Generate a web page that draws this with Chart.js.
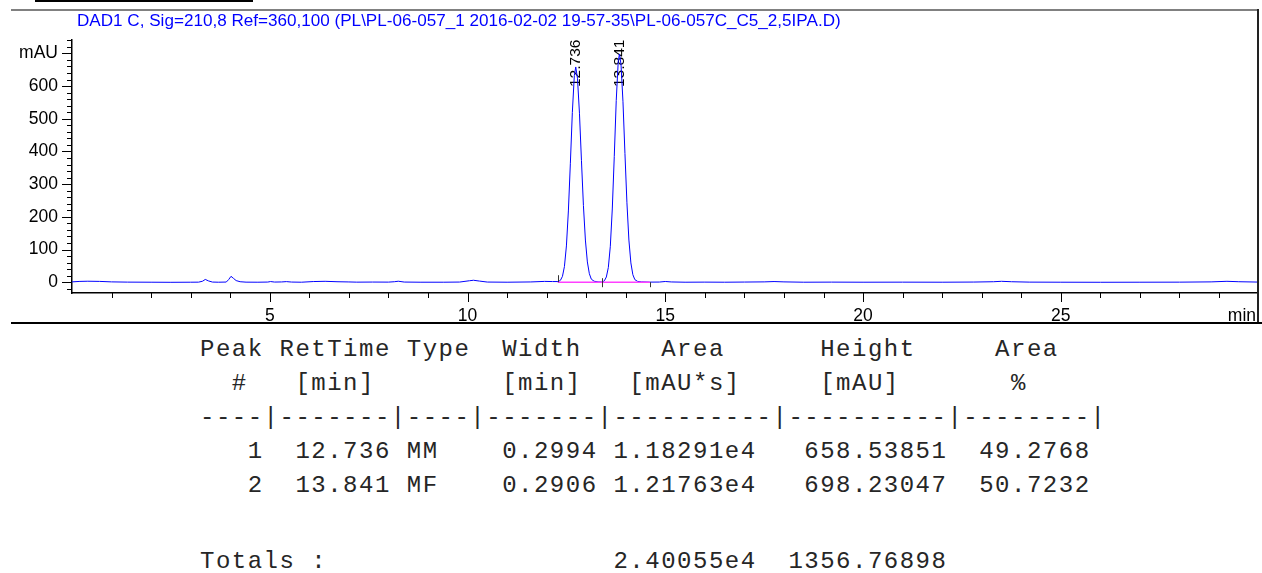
<!DOCTYPE html>
<html>
<head>
<meta charset="utf-8">
<script src="https://cdn.jsdelivr.net/npm/chart.js@4.4.1/dist/chart.umd.min.js"></script>
<style>
  body { margin: 0; width: 1262px; height: 573px; background: #fff; position: relative; overflow: hidden; font-family: Arial, 'Liberation Sans', sans-serif; }
  .rule { position: absolute; }
  #topRule { left: 35px; top: 0; width: 218px; height: 2px; background: #000; }
  #grayRule { left: 11px; top: 9px; width: 1247px; height: 2px; background: #808080; }
  #rightRule { left: 1257px; top: 9px; width: 2px; height: 315px; background: #222; }
  #bottomRule { left: 11px; top: 322px; width: 1251px; height: 2px; background: #000; }
  #title { position: absolute; left: 77px; top: 12px; color: #0000ff; font-size: 17.1px; line-height: 17px; white-space: nowrap; }
  .report { position: absolute; left: 200px; margin: 0; font-family: 'Liberation Mono', 'Courier New', monospace; font-size: 24px; letter-spacing: 1.5px; line-height: 34px; color: #262626; }
  #report { top: 333px; }
  #totals { top: 545px; }
</style>
</head>
<body>
<div class="rule" id="topRule"></div>
<div class="rule" id="grayRule"></div>
<canvas id="chromatogram" width="1262" height="330" style="position:absolute;left:0;top:0"></canvas>
<div class="rule" id="rightRule"></div>
<div class="rule" id="bottomRule"></div>
<div id="title"></div>
<pre class="report" id="report"></pre>
<pre class="report" id="totals"></pre>
<script>
// Signal description
const signalTitle = 'DAD1 C, Sig=210,8 Ref=360,100 (PL\\PL-06-057_1 2016-02-02 19-57-35\\PL-06-057C_C5_2,5IPA.D)';

// Trace (time in min, signal in mAU)
const traceTime = [
  0.00, 0.20, 0.40, 0.70, 1.00, 1.40, 2.00, 2.50, 3.00, 3.20, 3.30, 3.37, 3.45, 3.55, 3.70,
  3.90, 3.96, 4.02, 4.08, 4.15, 4.25, 4.40, 4.70, 4.95, 5.02, 5.12, 5.30, 5.42, 5.55, 5.80,
  6.10, 6.40, 6.70, 7.00, 7.20, 7.60, 8.00, 8.15, 8.25, 8.40, 8.80, 9.40, 9.80, 10.05, 10.15,
  10.30, 10.50, 11.00, 11.60, 11.95, 12.15, 12.30,
  12.35, 12.40, 12.45, 12.50, 12.55, 12.60, 12.65, 12.70, 12.736, 12.78, 12.83, 12.88, 12.93,
  12.98, 13.03, 13.08, 13.13, 13.20, 13.30, 13.41,
  13.46, 13.51, 13.56, 13.61, 13.66, 13.71, 13.76, 13.81, 13.841, 13.88, 13.93, 13.98, 14.03,
  14.08, 14.13, 14.18, 14.23, 14.30, 14.40, 14.60,
  14.85, 15.00, 15.15, 15.50, 16.00, 16.50, 17.00, 17.50, 17.75, 18.00, 18.50, 19.20, 20.00,
  21.00, 22.00, 22.80, 23.30, 23.50, 23.75, 24.20, 25.00, 26.00, 27.00, 28.00, 28.80, 29.20,
  29.50, 29.96
];
const traceMau = [
  1.0, 2.5, 3.0, 2.5, 1.0, 0.3, 0.0, -0.3, 0.0, 0.2, 3.0, 8.5, 4.0, 0.5, 0.0,
  0.5, 8.0, 18.0, 12.0, 5.0, 1.5, 0.2, 0.0, 0.5, 2.0, 0.5, 0.8, 1.8, 0.5, 0.0,
  2.0, 2.8, 1.5, 0.8, 0.2, 0.5, 0.3, 1.5, 3.0, 0.5, 0.0, 0.0, 0.5, 4.5, 6.0,
  3.5, 0.5, 0.0, 0.8, 2.5, 2.0, 2.0,
  6, 18, 48, 111, 218, 364, 519, 632, 658.5, 624, 517, 373, 235,
  129, 62, 26, 9.3, 3, 1, 0.5,
  4.5, 16, 45, 110, 224, 385, 556, 675, 698.2, 667, 552, 394, 243,
  129, 59, 23, 8, 2.5, 1, 0.3,
  0.5, 2.2, 0.8, 0.0, 0.3, 0.0, 0.5, 1.0, 2.0, 1.0, 0.0, 0.3, 0.0,
  0.2, 0.0, 0.5, 1.5, 2.8, 1.5, 0.3, 0.0, -0.2, 0.0, 0.2, 1.0, 2.8,
  1.5, 0.5
];

// Peak annotations and integration events
const peakRetTimes = [12.736, 13.841];
const peakLabels = ['12.736', '13.841'];
const baselineTimes = [12.28, 14.61];
const baselineMau = [0, 0];
const eventTimes = [12.28, 13.41, 14.61];
const eventKinds = ['start', 'drop', 'end'];

// Axis ticks
const yLabelledTicks = [0, 100, 200, 300, 400, 500, 600, 700];
const yUnitLabel = 'mAU';
const yMinorTicks = [-20, 0, 20, 40, 60, 80, 100, 120, 140, 160, 180, 200, 220, 240, 260, 280, 300,
  320, 340, 360, 380, 400, 420, 440, 460, 480, 500, 520, 540, 560, 580, 600, 620, 640, 660, 680,
  700, 720, 740];
const xLabelledTicks = [5, 10, 15, 20, 25];
const xMinorTicks = [1, 2, 3, 4, 5, 6, 7, 8, 9, 10, 11, 12, 13, 14, 15, 16, 17, 18, 19, 20, 21, 22,
  23, 24, 25, 26, 27, 28, 29];
const xUnitLabel = 'min';

// Report table
const peakNos = [1, 2];
const retTimes = ['12.736', '13.841'];
const peakTypes = ['MM', 'MF'];
const peakWidths = ['0.2994', '0.2906'];
const peakAreas = ['1.18291e4', '1.21763e4'];
const peakHeights = ['658.53851', '698.23047'];
const areaPercents = ['49.2768', '50.7232'];
const totalArea = '2.40055e4';
const totalHeight = '1356.76898';

document.getElementById('title').textContent = signalTitle;

const reportLines = [
  'Peak RetTime Type  Width     Area      Height     Area  ',
  '  #   [min]        [min]   [mAU*s]     [mAU]       %    ',
  '----|-------|----|-------|----------|----------|--------|'
];
peakNos.forEach((n, i) => {
  reportLines.push(
    String(n).padStart(4) + retTimes[i].padStart(8) + ' ' + peakTypes[i].padEnd(4) +
    peakWidths[i].padStart(8) + ' ' + peakAreas[i].padEnd(9) + peakHeights[i].padStart(12) +
    areaPercents[i].padStart(9)
  );
});
document.getElementById('report').textContent = reportLines.join('\n');
document.getElementById('totals').textContent = 'Totals :'.padEnd(26) + totalArea + totalHeight.padStart(12);

const tracePoints = traceTime.map((t, i) => ({ x: t, y: traceMau[i] }));
const baselinePoints = baselineTimes.map((t, i) => ({ x: t, y: baselineMau[i] }));

const tickFont = { family: "'Liberation Sans', Arial, sans-serif", size: 17.5 };

// Hand-drawn tick marks: long for labelled, short for the rest
const tickMarks = {
  id: 'tickMarks',
  afterDraw(chart) {
    const { ctx, chartArea, scales } = chart;
    ctx.save();
    ctx.strokeStyle = '#000';
    ctx.lineWidth = 1;
    ctx.beginPath();
    yMinorTicks.forEach(v => {
      const y = Math.round(scales.y.getPixelForValue(v)) + 0.5;
      const len = yLabelledTicks.includes(v) ? 10 : 5;
      ctx.moveTo(chartArea.left - len, y);
      ctx.lineTo(chartArea.left, y);
    });
    xMinorTicks.forEach(v => {
      const x = Math.round(scales.x.getPixelForValue(v)) + 0.5;
      const len = xLabelledTicks.includes(v) ? 9 : 5;
      ctx.moveTo(x, chartArea.bottom);
      ctx.lineTo(x, chartArea.bottom + len);
    });
    ctx.stroke();
    ctx.fillStyle = '#000';
    ctx.font = "17.5px 'Liberation Sans', Arial, sans-serif";
    ctx.textAlign = 'right';
    ctx.textBaseline = 'middle';
    ctx.fillText(xUnitLabel, chartArea.right - 1, chartArea.bottom + 23);
    ctx.restore();
  }
};

// Retention time labels, rotated, under the trace
const peakText = {
  id: 'peakText',
  beforeDatasetsDraw(chart) {
    const { ctx, chartArea, scales } = chart;
    ctx.save();
    ctx.fillStyle = '#000';
    ctx.font = "15.5px 'Liberation Sans', Arial, sans-serif";
    ctx.textAlign = 'left';
    ctx.textBaseline = 'middle';
    peakRetTimes.forEach((t, i) => {
      const x = scales.x.getPixelForValue(t);
      ctx.save();
      ctx.translate(x, chartArea.top + 47);
      ctx.rotate(-Math.PI / 2);
      ctx.fillText(peakLabels[i], 0, 0);
      ctx.restore();
    });
    ctx.restore();
  }
};

// Integration event markers on the baseline
const eventMarks = {
  id: 'eventMarks',
  afterDatasetsDraw(chart) {
    const { ctx, scales } = chart;
    const y0 = scales.y.getPixelForValue(0);
    ctx.save();
    ctx.strokeStyle = '#333';
    ctx.lineWidth = 1;
    ctx.beginPath();
    eventTimes.forEach((t, i) => {
      const x = Math.round(scales.x.getPixelForValue(t)) + 0.5;
      const kind = eventKinds[i];
      if (kind === 'start') { ctx.moveTo(x, y0 - 7); ctx.lineTo(x, y0); }
      else if (kind === 'drop') { ctx.moveTo(x, y0 - 4); ctx.lineTo(x, y0 + 5); }
      else { ctx.moveTo(x, y0); ctx.lineTo(x, y0 + 5); }
    });
    ctx.stroke();
    ctx.restore();
  }
};

new Chart(document.getElementById('chromatogram'), {
  type: 'line',
  data: {
    datasets: [
      {
        data: baselinePoints,
        borderColor: '#ff40ff',
        borderWidth: 1.5,
        pointRadius: 0,
        order: 0
      },
      {
        data: tracePoints,
        borderColor: '#0000ff',
        borderWidth: 1,
        pointRadius: 0,
        tension: 0,
        order: 1
      }
    ]
  },
  options: {
    responsive: false,
    devicePixelRatio: 1,
    animation: false,
    layout: { padding: { top: 40, right: 5, left: 0, bottom: 0 } },
    plugins: { legend: { display: false }, tooltip: { enabled: false } },
    scales: {
      x: {
        type: 'linear',
        min: 0,
        max: 29.96,
        afterBuildTicks: scale => { scale.ticks = xLabelledTicks.map(v => ({ value: v })); },
        afterFit: scale => { scale.height = 37; scale.paddingLeft = 0; scale.paddingRight = 0; },
        grid: { drawOnChartArea: false, drawTicks: false },
        border: { display: true, color: '#000', width: 1.5 },
        ticks: { font: tickFont, color: '#000', padding: 13, autoSkip: false, maxRotation: 0 }
      },
      y: {
        min: -33,
        max: 741,
        afterBuildTicks: scale => { scale.ticks = yLabelledTicks.map(v => ({ value: v })); },
        afterFit: scale => { scale.width = 72; },
        grid: { drawOnChartArea: false, drawTicks: false },
        border: { display: true, color: '#000', width: 1.5 },
        ticks: {
          font: tickFont,
          color: '#000',
          padding: 14,
          autoSkip: false,
          callback: v => (v === 700 ? yUnitLabel : String(v))
        }
      }
    }
  },
  plugins: [tickMarks, peakText, eventMarks]
});
</script>
</body>
</html>
